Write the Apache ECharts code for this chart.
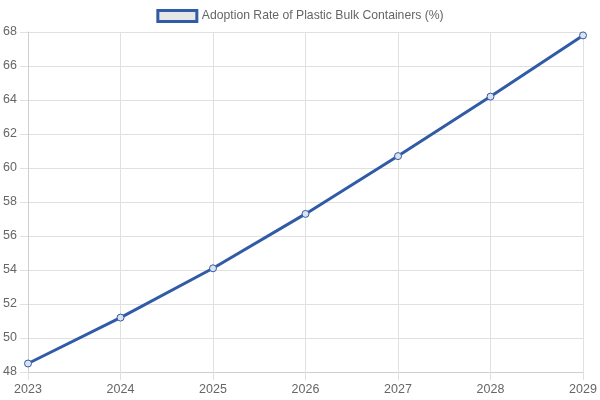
<!DOCTYPE html>
<html>
<head>
<meta charset="utf-8">
<script src="https://cdn.jsdelivr.net/npm/echarts@6/dist/echarts.min.js"></script>
<style>html,body{margin:0;padding:0;background:#fff}#c{width:600px;height:400px}</style>
</head>
<body>
<div id="c"></div>
<script>
const years = ['2023','2024','2025','2026','2027','2028','2029'];
const adoptionRate = [48.5, 51.2, 54.1, 57.3, 60.7, 64.2, 67.8];
const seriesName = 'Adoption Rate of Plastic Bulk Containers (%)';
const yMin = 48, yMax = 68, yStep = 2;

const blue = '#2f5ba7';
const font = '"Liberation Sans", Arial, sans-serif';
const chart = echarts.init(document.getElementById('c'), null, {renderer: 'canvas'});
chart.setOption({
  animation: false,
  textStyle: {fontFamily: font},
  legend: {
    top: 4, left: 'center',
    itemWidth: 39, itemHeight: 11, itemGap: 10,
    icon: 'rect',
    itemStyle: {color: '#e6e6e6', borderColor: blue, borderWidth: 3},
    textStyle: {color: '#666', fontSize: 12.2, fontFamily: font},
    data: [seriesName]
  },
  grid: {left: 28, right: 17, top: 32, bottom: 28, containLabel: false},
  xAxis: {
    type: 'category', boundaryGap: false, data: years,
    axisLine: {show: true, lineStyle: {color: '#cfcfcf'}},
    axisTick: {show: true, length: 8, lineStyle: {color: '#e0e0e0'}},
    axisLabel: {color: '#666', fontSize: 12.5, margin: 11, fontFamily: font},
    splitLine: {show: true, lineStyle: {color: '#e0e0e0'}}
  },
  yAxis: {
    type: 'value', min: yMin, max: yMax, interval: yStep,
    axisLine: {show: true, lineStyle: {color: '#cfcfcf'}},
    axisTick: {show: true, length: 8, lineStyle: {color: '#e0e0e0'}},
    axisLabel: {color: '#666', fontSize: 12.5, margin: 11, fontFamily: font},
    splitLine: {show: true, lineStyle: {color: '#e0e0e0'}}
  },
  series: [{
    name: seriesName, type: 'line', data: adoptionRate,
    symbol: 'circle', symbolSize: 7,
    itemStyle: {color: 'rgba(220,226,240,1)', borderColor: blue, borderWidth: 1},
    lineStyle: {color: blue, width: 3},
    z: 3
  }]
});
</script>
</body>
</html>
